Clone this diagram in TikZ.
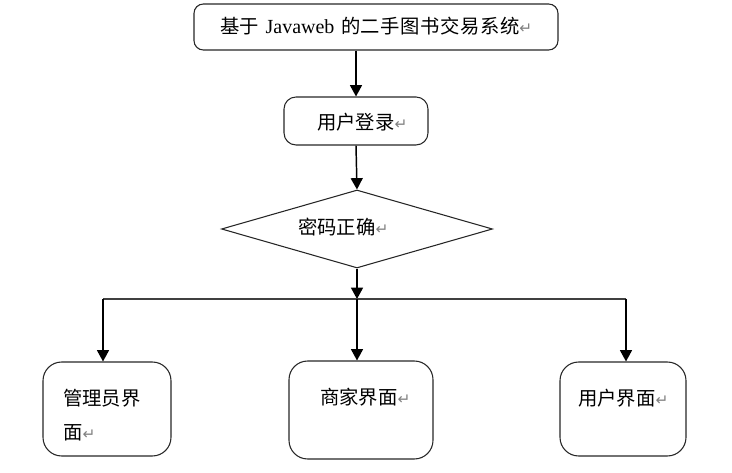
\documentclass[tikz,border=0pt]{standalone}
\usepackage{fontspec}
\setmainfont{Liberation Serif}
\newfontfamily\cjk{Noto Sans CJK SC}
\newfontfamily\dejavu{DejaVu Sans}
\usetikzlibrary{arrows.meta,shapes.geometric}
\newcommand\parmk{{\dejavu\color{gray}\fontsize{11.5}{11.5}\selectfont ↵}}
\begin{document}
\begin{tikzpicture}[x=0.75pt,y=-0.75pt,
  box/.style={draw=black!85,line width=0.8pt,rounded corners=#1,inner sep=0pt},
  box/.default=14pt,
  dia/.style={draw=black!85,line width=0.8pt,shape=diamond,inner sep=0pt},
  lbl/.style={anchor=west,inner sep=0pt,font=\cjk\fontsize{14.5}{17}\selectfont},
  arr/.style={draw=black,line width=1.1pt,-{Triangle[width=9pt,length=8.5pt]}},
  hline/.style={draw=black!75,line width=0.9pt}]
\useasboundingbox (0,0) rectangle (732,473);
% boxes
\node[box=7pt,minimum width=273pt,minimum height=34.5pt] (top) at (376,27) {};
\node[box=9pt,minimum width=108pt,minimum height=36pt] (login) at (356,121) {};
\node[dia,minimum width=203.25pt,minimum height=58.5pt] (chk) at (357,229) {};
\node[box,minimum width=96pt,minimum height=70.5pt] (admin) at (107,409) {};
\node[box,minimum width=108pt,minimum height=73.5pt] (shop) at (361,410) {};
\node[box,minimum width=94.5pt,minimum height=70.5pt] (user) at (623,409) {};
% labels
\node[lbl] (toptxt) at (220,26) {基于\hspace{5pt}{\rmfamily\fontsize{15}{17}\selectfont Javaweb}\hspace{5pt}的\hspace{0.4pt}二\hspace{0.4pt}手\hspace{0.4pt}图\hspace{0.4pt}书\hspace{0.4pt}交\hspace{0.4pt}易\hspace{0.4pt}系\hspace{0.4pt}统\parmk};
\node[lbl] (logintxt) at (317,122) {用户登录\parmk};
\node[lbl] (chktxt) at (298,227) {密码正确\parmk};
\node[lbl] (admintxt) at (63,398) {管理员界};
\node[lbl] (admintxtb) at (63,433) {面\parmk};
\node[lbl] (shoptxt) at (320,397) {商家界面\parmk};
\node[lbl] (usertxt) at (578,398) {用户界面\parmk};
% connectors
\coordinate (j) at (357,299);
\coordinate (jl) at (103,299);
\coordinate (jr) at (626,299);
\draw[arr] (top.south -| 356,0) -- (login.north -| 356,0);
\draw[arr] (login.south -| 356,0) -- (chk.north);
\draw[arr] (chk.south) -- (j);
\draw[hline] (jl) -- (jr);
\draw[arr] (jl) -- (jl |- admin.north);
\draw[arr] (j) -- (j |- shop.north);
\draw[arr] (jr) -- (jr |- user.north);
\end{tikzpicture}
\end{document}
